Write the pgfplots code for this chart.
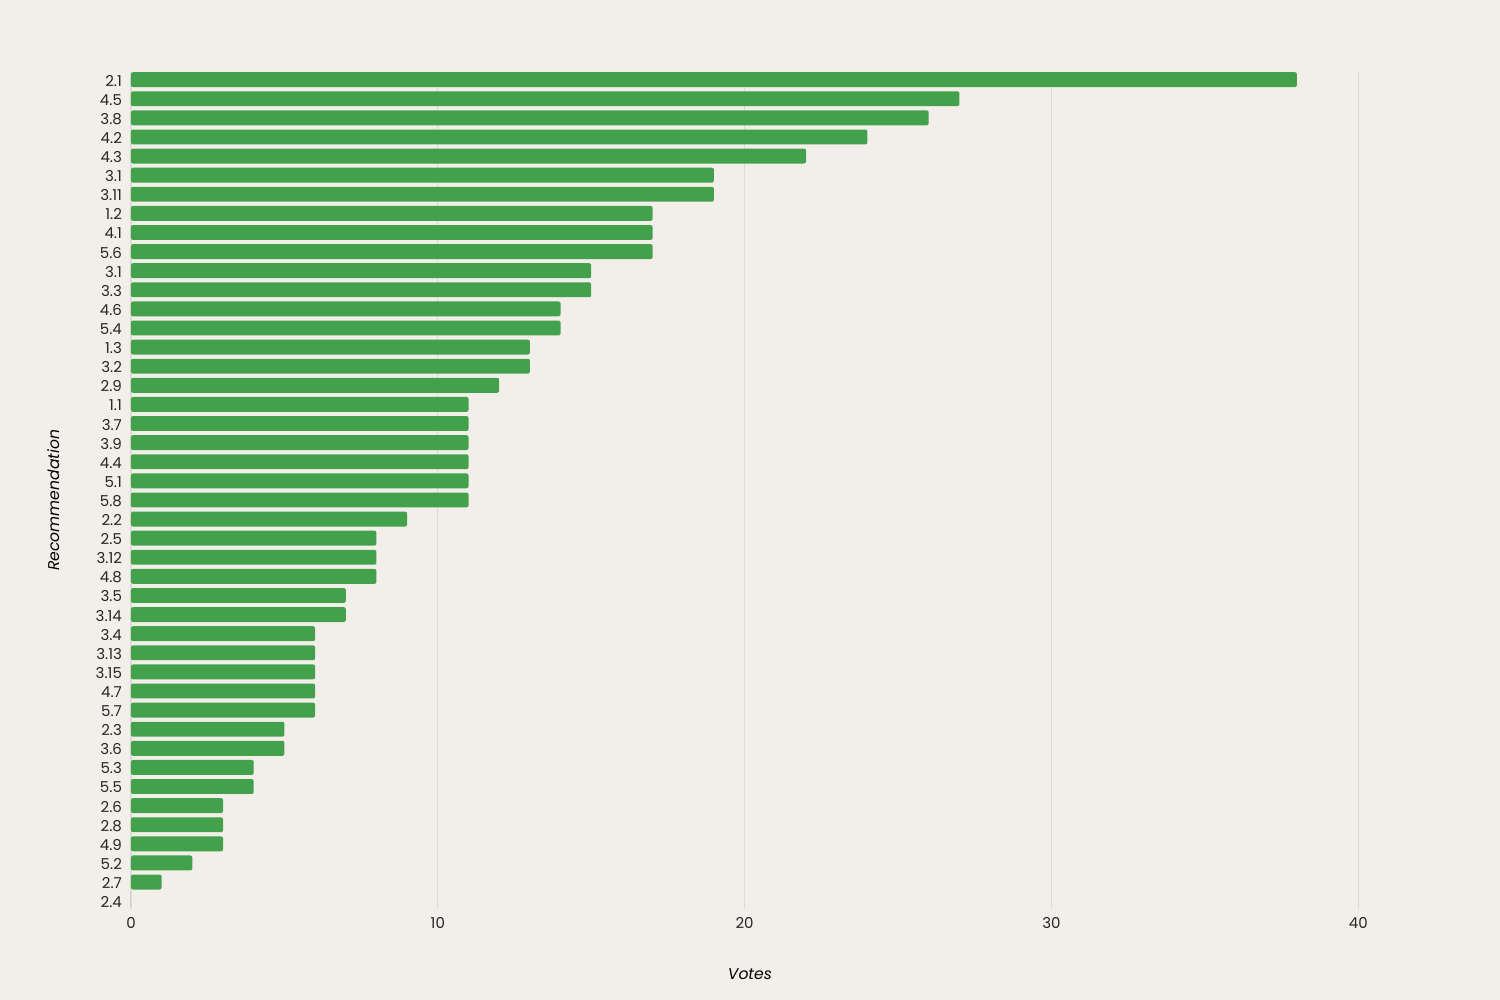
\documentclass[border=0pt]{standalone}
\usepackage{pgfplots}
\pgfplotsset{compat=1.18}
\usepackage{fontspec}
\setmainfont{Poppins}
\definecolor{bg}{HTML}{F2EFEA}
\definecolor{bar}{HTML}{43A14B}
\definecolor{grid}{HTML}{DEDBD6}
\begin{document}
\begin{tikzpicture}
\fill[bg] (0,0) rectangle (750pt,500pt);
\begin{axis}[
  at={(65.5pt,45.6pt)}, anchor=south west,
  scale only axis, width=675pt, height=418.4pt,
  xbar, bar width=0.78,
  xmin=0, xmax=44,
  ymin=-0.4, ymax=43.4, y dir=reverse,
  ytick={0,...,43},
  yticklabels={2.1,4.5,3.8,4.2,4.3,3.1,3.11,1.2,4.1,5.6,3.1,3.3,4.6,5.4,1.3,3.2,2.9,1.1,3.7,3.9,4.4,5.1,5.8,2.2,2.5,3.12,4.8,3.5,3.14,3.4,3.13,3.15,4.7,5.7,2.3,3.6,5.3,5.5,2.6,2.8,4.9,5.2,2.7,2.4},
  xtick={0,10,20,30,40},
  xmajorgrids, major grid style={draw=grid, line width=0.6pt},
  axis line style={draw=none},
  major tick length=0pt,
  tick label style={font=\fontsize{7.5pt}{8pt}\selectfont, text=black!85},
  yticklabel style={xshift=-1pt, yshift=-0.5pt},
  xticklabel style={yshift=-1pt},
  /pgf/number format/assume math mode=true,
  xlabel={Votes}, ylabel={Recommendation},
  every axis x label/.style={at={(axis description cs:0.4585,0)}, anchor=center, yshift=-32.5pt, font=\fontsize{7.8pt}{9pt}\selectfont\itshape},
  every axis y label/.style={at={(axis description cs:-0.057,0.488)}, anchor=center, rotate=90, font=\fontsize{7.8pt}{9pt}\selectfont\itshape},
  clip=false,
]
\addplot[fill=bar, draw=none, rounded corners=1pt] coordinates {
(38,0) (27,1) (26,2) (24,3) (22,4) (19,5) (19,6) (17,7) (17,8) (17,9)
(15,10) (15,11) (14,12) (14,13) (13,14) (13,15) (12,16) (11,17) (11,18) (11,19)
(11,20) (11,21) (11,22) (9,23) (8,24) (8,25) (8,26) (7,27) (7,28) (6,29)
(6,30) (6,31) (6,32) (6,33) (5,34) (5,35) (4,36) (4,37) (3,38) (3,39)
(3,40) (2,41) (1,42) (0,43)
};
\end{axis}
\end{tikzpicture}
\end{document}
